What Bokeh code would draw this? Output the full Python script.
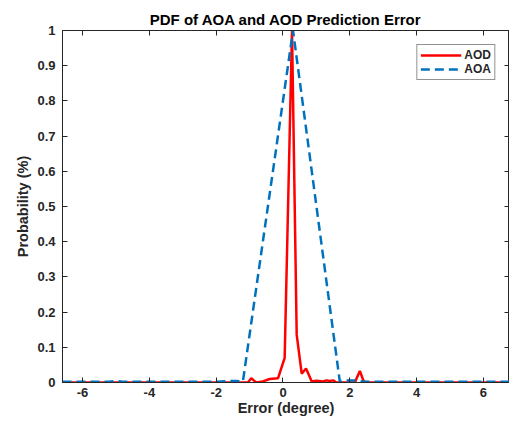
from bokeh.plotting import figure
from bokeh.models import FixedTicker, LinearAxis, Range1d, Legend, LegendItem
from bokeh.embed import file_html
from bokeh.resources import INLINE

# ---- data ----
aod_x = [-6.6, -1.05, -0.95, -0.8, -0.6, -0.4, -0.15, 0.05, 0.27, 0.41, 0.56, 0.69, 0.86,
         1.0, 1.2, 1.3, 1.4, 1.5, 1.6, 2.15, 2.3, 2.42, 2.6, 6.78]
aod_y = [0.0, 0.0, 0.012, 0.0, 0.003, 0.01, 0.012, 0.07, 1.0, 0.136, 0.025, 0.04, 0.003,
         0.005, 0.003, 0.006, 0.004, 0.006, 0.0, 0.0, 0.033, 0.002, 0.0, 0.0]

aoa_x = [-6.6, -5.2, -5.0, -4.8, -2.0, -1.6, -1.4, -1.2, 0.3, 1.7, 1.8, 2.2, 2.4, 6.78]
aoa_y = [0.002, 0.002, 0.004, 0.002, 0.002, 0.004, 0.004, 0.003, 1.0, 0.003, 0.006, 0.006, 0.002, 0.002]

x_ticks = [-6, -4, -2, 0, 2, 4, 6]
x_tick_labels = ["-6", "-4", "-2", "0", "2", "4", "6"]
y_ticks = [0, 0.1, 0.2, 0.3, 0.4, 0.5, 0.6, 0.7, 0.8, 0.9, 1]
y_tick_labels = ["0", "0.1", "0.2", "0.3", "0.4", "0.5", "0.6", "0.7", "0.8", "0.9", "1"]

FONT = "Liberation Sans"
AX = "#262626"

p = figure(frame_width=447, frame_height=352,
           x_range=Range1d(-6.6, 6.78), y_range=Range1d(0, 1),
           output_backend="svg", toolbar_location=None,
           min_border_left=62, min_border_top=30, min_border_right=0, min_border_bottom=44,
           title="PDF of AOA and AOD Prediction Error")

p.title.align = "center"
p.title.text_font = FONT
p.title.text_font_size = "15px"
p.title.text_font_style = "bold"
p.title.text_color = "#000000"
p.title.standoff = 6

p.xgrid.visible = False
p.ygrid.visible = False
p.outline_line_color = AX
p.background_fill_color = "white"
p.border_fill_color = "white"

def style_axis(ax, ticks, labels):
    ax.ticker = FixedTicker(ticks=ticks)
    ax.major_label_overrides = {t: l for t, l in zip(ticks, labels)}
    ax.major_tick_in = 5
    ax.major_tick_out = 0
    ax.minor_tick_in = 0
    ax.minor_tick_out = 0
    ax.axis_line_color = AX
    ax.major_tick_line_color = AX
    ax.major_label_text_font = FONT
    ax.major_label_text_font_style = "bold"
    ax.major_label_text_color = AX
    ax.major_label_text_font_size = "13px"
    ax.axis_label_text_font = FONT
    ax.axis_label_text_font_size = "14.5px"
    ax.axis_label_text_font_style = "bold"
    ax.axis_label_text_color = AX

def mirror_axis(ax, ticks):
    # box-style mirrored ticks without labels
    ax.ticker = FixedTicker(ticks=[], minor_ticks=ticks)
    ax.major_tick_in = 0
    ax.major_tick_out = 0
    ax.minor_tick_in = 5
    ax.minor_tick_out = 0
    ax.major_label_standoff = 0
    ax.axis_line_color = AX
    ax.minor_tick_line_color = AX

xa = p.xaxis[0]
style_axis(xa, x_ticks, x_tick_labels)
xa.major_label_standoff = 5
xa.axis_label = "Error (degree)"
xa.axis_label_standoff = 0

ya = p.yaxis[0]
style_axis(ya, y_ticks, y_tick_labels)
ya.major_label_standoff = 7
ya.axis_label = "Probability (%)"
ya.axis_label_standoff = 3

top = LinearAxis()
mirror_axis(top, x_ticks)
p.add_layout(top, "above")
right = LinearAxis()
mirror_axis(right, y_ticks)
p.add_layout(right, "right")

r_aod = p.line(aod_x, aod_y, line_color="#FF0000", line_width=2.5)
r_aoa = p.line(aoa_x, aoa_y, line_color="#0072BD", line_width=2.5, line_dash="9 5")

legend = Legend(items=[LegendItem(label="AOD", renderers=[r_aod]),
                       LegendItem(label="AOA", renderers=[r_aoa])],
                location="top_right")
legend.margin = 14
legend.padding = 3
legend.spacing = 0
legend.glyph_width = 41
legend.glyph_height = 14
legend.label_height = 14
legend.label_standoff = 3
legend.label_text_font = FONT
legend.label_text_font_size = "12px"
legend.label_text_font_style = "bold"
legend.label_text_color = AX
legend.border_line_color = AX
legend.border_line_width = 1
legend.background_fill_alpha = 1
p.add_layout(legend, "center")

open("out.html", "w").write(file_html(p, INLINE))
